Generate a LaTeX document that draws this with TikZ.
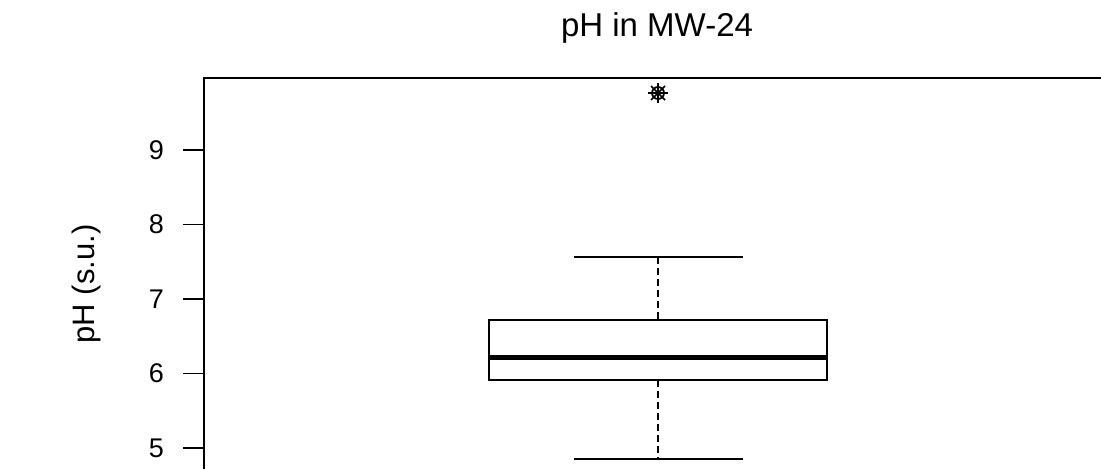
\documentclass[tikz,border=0pt]{standalone}
\usepackage{fontspec}
\setmainfont{Liberation Sans}
\usetikzlibrary{calc}
\begin{document}
\begin{tikzpicture}[x=1pt,y=-1pt,
    frameline/.style={line width=1.6pt},
    boxline/.style={line width=1.5pt},
    whisker/.style={line width=1.5pt, dash pattern=on 7pt off 4pt},
    median/.style={line width=5pt},
    axislabel/.style={font=\fontsize{27}{31}\selectfont, inner sep=0pt}]
  \useasboundingbox (0,0) rectangle (1101,469);
  % title
  \node[font=\fontsize{33}{38}\selectfont, inner sep=0pt] (title) at (657,28) {pH in MW-24};
  % frame of the plot (cut off at right and bottom)
  \draw[frameline] (204,469) -- (204,78) -- (1101,78);
  % y axis
  \foreach \v in {5,...,9} {
    \pgfmathsetmacro\ty{150+(9-\v)*74.5}
    \draw[frameline] (183,\ty) -- (204,\ty);
    \node[axislabel, anchor=east] (tick\v) at (164,\ty) {\v};
  }
  \node[axislabel, font=\fontsize{31}{36}\selectfont, rotate=90] (ylab) at (86,284) {pH (s.u.)};
  % box
  \draw[whisker] (658,257) -- (658,320);
  \draw[whisker] (658,380) -- (658,459);
  \draw[boxline] (574,257) -- (743,257);
  \draw[boxline] (574,459) -- (743,459);
  \draw[boxline] (489,320) rectangle (827,380);
  \draw[median] (489,357) -- (827,357);
  % outlier
  \coordinate (out) at (658,93);
  \fill (out) circle (2.5);
  \draw[line width=1.8pt] (out) circle (6);
  \draw[line width=1.6pt] ($(out)+(-10,0)$) -- ($(out)+(10,0)$) ($(out)+(0,-10)$) -- ($(out)+(0,10)$);
  \draw[line width=1.6pt] ($(out)+(-7,-7)$) -- ($(out)+(7,7)$) ($(out)+(-7,7)$) -- ($(out)+(7,-7)$);
\end{tikzpicture}
\end{document}
